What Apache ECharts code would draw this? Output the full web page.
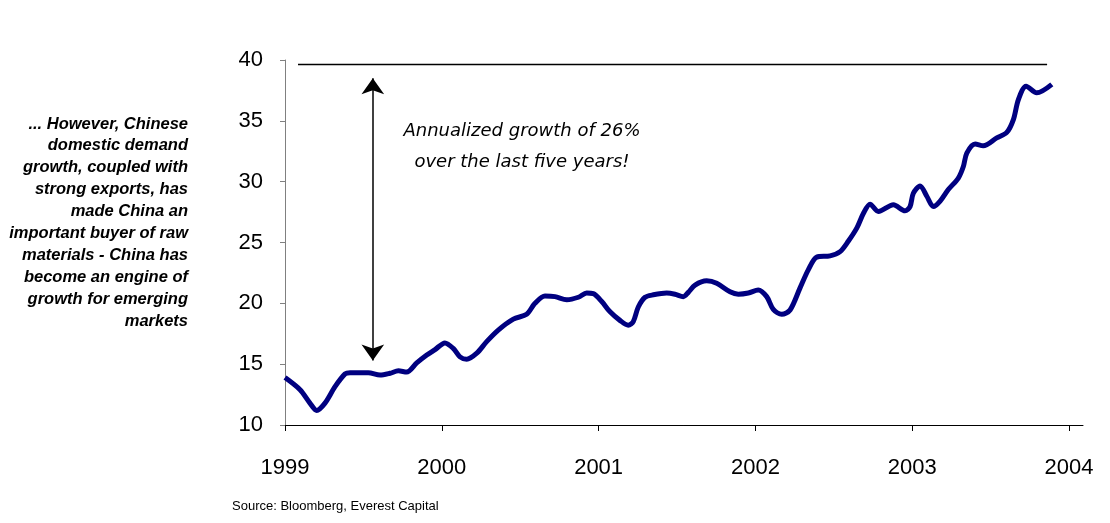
<!DOCTYPE html>
<html>
<head>
<meta charset="utf-8">
<script src="https://cdn.jsdelivr.net/npm/echarts@6/dist/echarts.min.js"></script>
<style>html,body{margin:0;padding:0;background:#fff;}#c{width:1110px;height:523px;}</style>
</head>
<body>
<div id="c"></div>
<script>
// Decimal years (x) and values (y)
const years = [1999.000,1999.096,1999.159,1999.202,1999.255,1999.319,1999.383,1999.415,1999.531,1999.606,1999.670,1999.723,1999.776,1999.840,1999.904,1999.957,2000.020,2000.073,2000.116,2000.159,2000.223,2000.286,2000.360,2000.456,2000.541,2000.594,2000.658,2000.722,2000.797,2000.871,2000.924,2000.966,2001.020,2001.073,2001.136,2001.189,2001.221,2001.253,2001.296,2001.349,2001.434,2001.487,2001.540,2001.572,2001.615,2001.689,2001.753,2001.838,2001.891,2001.955,2002.018,2002.072,2002.114,2002.168,2002.221,2002.284,2002.337,2002.391,2002.476,2002.540,2002.592,2002.647,2002.689,2002.731,2002.784,2002.880,2002.954,2002.986,2003.007,2003.050,2003.093,2003.135,2003.178,2003.230,2003.294,2003.326,2003.348,2003.401,2003.453,2003.539,2003.603,2003.645,2003.677,2003.726,2003.794,2003.890];
const values = [13.9,12.9,11.8,11.2,11.8,13.15,14.2,14.3,14.3,14.1,14.25,14.45,14.35,15.1,15.75,16.2,16.75,16.3,15.6,15.4,15.9,16.85,17.8,18.7,19.1,20.0,20.6,20.55,20.3,20.5,20.85,20.8,20.15,19.3,18.6,18.2,18.5,19.7,20.5,20.7,20.85,20.75,20.55,20.9,21.5,21.85,21.65,20.95,20.75,20.85,21.1,20.55,19.5,19.1,19.45,21.25,22.75,23.8,23.9,24.25,25.1,26.2,27.4,28.15,27.55,28.1,27.6,27.95,29.05,29.65,28.8,27.95,28.4,29.35,30.3,31.25,32.35,33.1,32.95,33.6,34.05,35.1,36.75,37.85,37.3,38.0];
const yearTicks = [1999,2000,2001,2002,2003,2004];
const yTicks = [10,15,20,25,30,35,40];
const refLineY = 39.63;
const refLineX = [1999.083, 2003.86];
const arrowX = 1999.56;
const arrowY = [38.5, 15.3];
const noteLines = ['Annualized growth of 26%', 'over the last five years!'];
const sideLines = ['... However, Chinese','domestic demand','growth, coupled with','strong exports, has','made China an','important buyer of raw','materials - China has','become an engine of','growth for emerging','markets'];
const sourceText = 'Source: Bloomberg, Everest Capital';

const chart = echarts.init(document.getElementById('c'), null, {renderer:'canvas'});
const graphics = [];
sideLines.forEach((t,i)=>{
  graphics.push({type:'text', x:188, y:124+i*21.9, style:{text:t, font:'italic bold 16.5px "Liberation Sans", Arial', fill:'#000', align:'right', verticalAlign:'middle'}});
});
noteLines.forEach((t,i)=>{
  graphics.push({type:'text', x:522, y:131+i*31, style:{text:t, font:'italic 18px "DejaVu Sans"', fill:'#000', align:'center', verticalAlign:'middle'}});
});
graphics.push({type:'text', x:232, y:506, style:{text:sourceText, font:'13px "Liberation Sans", Arial', fill:'#000', align:'left', verticalAlign:'middle'}});

chart.setOption({
  animation:false,
  grid:{left:285, right:27, top:60, bottom:98, containLabel:false},
  xAxis:{type:'value', min:1999, max:2004.089, interval:1,
    splitLine:{show:false},
    axisLine:{lineStyle:{color:'#000', width:1}},
    axisTick:{show:true, length:6, lineStyle:{color:'#000'}, customValues:yearTicks},
    axisLabel:{customValues:yearTicks, formatter:v=>String(Math.round(v)), fontFamily:'"Liberation Sans", Arial', fontSize:22, color:'#000', margin:32}
  },
  yAxis:{type:'value', min:10, max:40, interval:5,
    splitLine:{show:false},
    axisLine:{show:true, lineStyle:{color:'#808080', width:1}},
    axisTick:{show:true, length:5, lineStyle:{color:'#808080'}},
    axisLabel:{fontFamily:'"Liberation Sans", Arial', fontSize:22, color:'#000', margin:22}
  },
  graphic:graphics,
  series:[
    {type:'line', data:years.map((x,i)=>[x,values[i]]), showSymbol:false, smooth:0.3,
     lineStyle:{color:'#000080', width:5}, z:3},
    {type:'line', data:refLineX.map(x=>[x,refLineY]), showSymbol:false,
     lineStyle:{color:'#000', width:1.5}, z:2,
     markLine:{silent:true, symbol:['arrow','arrow'], symbolSize:[17,16],
       lineStyle:{color:'#000', width:1.5, type:'solid'}, label:{show:false},
       data:[[{coord:[arrowX,arrowY[0]]},{coord:[arrowX,arrowY[1]]}]]}}
  ]
});
</script>
</body>
</html>
